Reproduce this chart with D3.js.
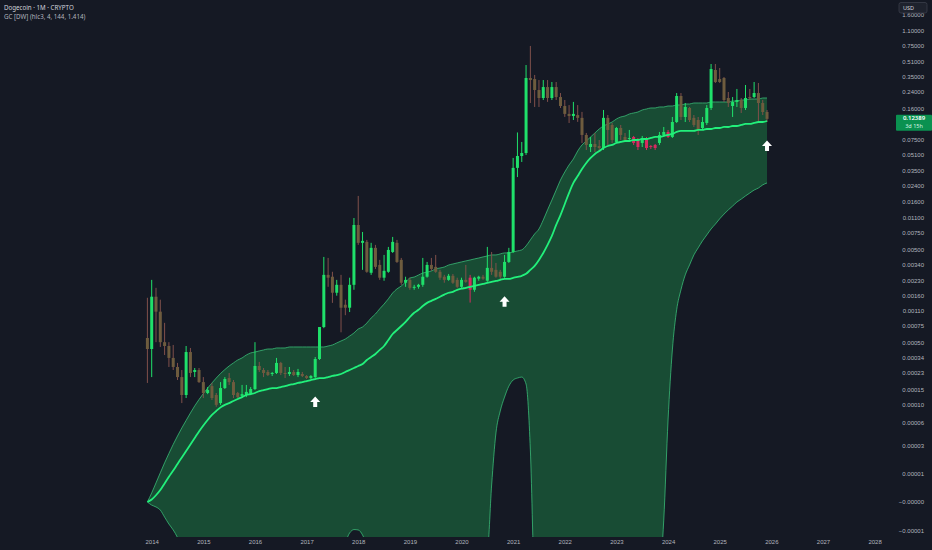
<!DOCTYPE html>
<html>
<head>
<meta charset="utf-8">
<script src="https://cdn.jsdelivr.net/npm/d3@7"></script>
<style>
    html, body { margin: 0; padding: 0; background: #151924; }
    svg { display: block; font-family: "Noto Sans", "Open Sans", sans-serif; }
</style>
</head>
<body>
<div id="chart"></div>
<script>
// Dogecoin monthly candles, Dec 2013 .. Dec 2025 (one entry per month)
const firstMonth = new Date(2013, 11, 1);

const opens = [
    0.000555,
    0.000421, 0.00155, 0.00107, 0.0005, 0.000454, 0.000336, 0.000267, 0.000206, 0.000129, 0.00039, 0.000235, 0.000247,
    0.000181, 0.000136, 0.000163, 0.000129, 0.000104, 0.000155, 0.000201, 0.000181, 0.000136, 0.000126, 0.000129, 0.000132,
    0.000151, 0.000274, 0.000247, 0.000235, 0.000223, 0.000229, 0.000296, 0.000229, 0.000223, 0.000235, 0.000217, 0.000223,
    0.000212, 0.000201, 0.000206, 0.000327, 0.00073, 0.00266, 0.00254, 0.00171, 0.00208, 0.00127, 0.00118, 0.00208,
    0.0091, 0.00586, 0.006, 0.0028, 0.00518, 0.0034, 0.00248, 0.00287, 0.00468, 0.00586, 0.00385, 0.00219,
    0.00235, 0.00193, 0.00198, 0.00208, 0.00254, 0.0034, 0.00324, 0.00287, 0.00254, 0.00235, 0.0026, 0.00235,
    0.00198, 0.00235, 0.00248, 0.00184, 0.00242, 0.00254, 0.0023, 0.00316, 0.00301, 0.00287, 0.00254, 0.00366,
    0.00468, 0.0371, 0.0497, 0.0535, 0.3386, 0.33, 0.252, 0.207, 0.271, 0.207, 0.271, 0.212,
    0.17, 0.14, 0.133, 0.136, 0.127, 0.0834, 0.062, 0.0668, 0.0636, 0.0605, 0.127, 0.1066,
    0.0702, 0.099, 0.0794, 0.0755, 0.0794, 0.0737, 0.0685, 0.0774, 0.0636, 0.0652, 0.0685, 0.0834,
    0.0898, 0.0794, 0.1147, 0.2175, 0.1298, 0.162, 0.127, 0.1205, 0.099, 0.112, 0.162, 0.4124,
    0.33, 0.3386, 0.207, 0.17, 0.1877, 0.1971, 0.162, 0.212, 0.212, 0.234, 0.183, 0.1467
];

const highs = [
    0.00151,
    0.00235, 0.00193, 0.00144, 0.00081, 0.0005, 0.000466, 0.000296, 0.000247, 0.000454, 0.000432, 0.00026, 0.00026,
    0.000206, 0.000159, 0.000177, 0.000136, 0.000181, 0.000206, 0.000229, 0.000191, 0.00014, 0.000168, 0.000168, 0.000159,
    0.0005, 0.000304, 0.00026, 0.000247, 0.000235, 0.000336, 0.000304, 0.000267, 0.000267, 0.000247, 0.000254, 0.000235,
    0.000217, 0.000217, 0.000344, 0.00073, 0.00414, 0.00404, 0.00287, 0.00235, 0.00266, 0.00144, 0.00248, 0.0108,
    0.0186, 0.00766, 0.0063, 0.00586, 0.00557, 0.00385, 0.00435, 0.0053, 0.00678, 0.0063, 0.00404, 0.00254,
    0.00248, 0.00208, 0.00213, 0.00404, 0.00366, 0.00404, 0.00435, 0.00301, 0.00266, 0.00272, 0.00272, 0.00248,
    0.00248, 0.0034, 0.00266, 0.00254, 0.0026, 0.00266, 0.0053, 0.00468, 0.00357, 0.00301, 0.00435, 0.00518,
    0.0474, 0.0887, 0.0702, 0.466, 0.745, 0.365, 0.322, 0.322, 0.322, 0.307, 0.307, 0.234,
    0.197, 0.174, 0.188, 0.174, 0.147, 0.0876, 0.0794, 0.0876, 0.0737, 0.1542, 0.1363, 0.112,
    0.1015, 0.1066, 0.0876, 0.0943, 0.0814, 0.0774, 0.0814, 0.0794, 0.0652, 0.0668, 0.0898, 0.1015,
    0.0943, 0.1298, 0.234, 0.234, 0.183, 0.166, 0.1363, 0.1298, 0.1298, 0.1743, 0.478, 0.478,
    0.433, 0.347, 0.24, 0.212, 0.2586, 0.207, 0.2851, 0.2586, 0.307, 0.2995, 0.1971, 0.1542
];

const lows = [
    0.000177,
    0.000206, 0.0005, 0.000443, 0.000362, 0.000267, 0.000247, 0.000191, 0.000104, 0.000119, 0.000206, 0.000206, 0.000177,
    0.000119, 0.000132, 0.000113, 0.000094, 0.000099, 0.000151, 0.000168, 0.000119, 0.000119, 0.000119, 0.000122, 0.000129,
    0.000147, 0.000235, 0.000206, 0.000212, 0.000212, 0.000223, 0.000217, 0.000201, 0.000212, 0.000212, 0.000206, 0.000206,
    0.000196, 0.000196, 0.000201, 0.000319, 0.00071, 0.00198, 0.00133, 0.00159, 0.00064, 0.00098, 0.00106, 0.00184,
    0.00557, 0.00301, 0.0028, 0.00266, 0.00308, 0.00235, 0.0023, 0.0028, 0.00457, 0.00357, 0.00208, 0.00198,
    0.00184, 0.00184, 0.00189, 0.00198, 0.00248, 0.00294, 0.0028, 0.00235, 0.00219, 0.0023, 0.00213, 0.00193,
    0.00193, 0.00219, 0.00134, 0.00175, 0.0023, 0.00235, 0.00224, 0.00266, 0.00248, 0.00235, 0.00248, 0.00357,
    0.00457, 0.0296, 0.0429, 0.051, 0.183, 0.166, 0.166, 0.197, 0.188, 0.197, 0.197, 0.162,
    0.13, 0.112, 0.1205, 0.115, 0.0685, 0.0576, 0.0548, 0.0548, 0.0548, 0.0576, 0.0652, 0.0685,
    0.0685, 0.0737, 0.0702, 0.0702, 0.0652, 0.0576, 0.062, 0.0576, 0.059, 0.0576, 0.0652, 0.0794,
    0.0774, 0.0774, 0.112, 0.1205, 0.1147, 0.1147, 0.1015, 0.0834, 0.0943, 0.1066, 0.1542, 0.2995,
    0.30, 0.1877, 0.166, 0.1298, 0.166, 0.1432, 0.1542, 0.1971, 0.207, 0.1147, 0.1363, 0.1147
];

const closes = [
    0.000421,
    0.00155, 0.00107, 0.0005, 0.000454, 0.000336, 0.000267, 0.000206, 0.000129, 0.00039, 0.000229, 0.000247, 0.000181,
    0.000136, 0.000147, 0.000119, 0.000099, 0.000155, 0.000196, 0.000181, 0.000129, 0.000122, 0.000132, 0.00014, 0.000151,
    0.000274, 0.000247, 0.000229, 0.000217, 0.000229, 0.000296, 0.000229, 0.000223, 0.000235, 0.000217, 0.000235, 0.000212,
    0.000201, 0.000212, 0.000327, 0.00073, 0.00266, 0.00248, 0.00171, 0.00208, 0.00118, 0.00118, 0.00208, 0.0091,
    0.00586, 0.00615, 0.00287, 0.00518, 0.00324, 0.00248, 0.00294, 0.00492, 0.006, 0.00366, 0.00219, 0.00235,
    0.00193, 0.00198, 0.00208, 0.00254, 0.0034, 0.00308, 0.00287, 0.00248, 0.00235, 0.0026, 0.00219, 0.00198,
    0.00235, 0.00224, 0.00184, 0.00248, 0.00254, 0.00242, 0.00316, 0.00287, 0.00254, 0.00254, 0.00366, 0.00468,
    0.0371, 0.0497, 0.0535, 0.3386, 0.322, 0.252, 0.207, 0.271, 0.207, 0.271, 0.212, 0.17,
    0.14, 0.133, 0.14, 0.127, 0.0834, 0.0652, 0.0668, 0.062, 0.0605, 0.127, 0.0943, 0.0737,
    0.099, 0.0834, 0.0737, 0.0774, 0.0685, 0.062, 0.0774, 0.0605, 0.062, 0.0605, 0.0834, 0.0898,
    0.0794, 0.1147, 0.2175, 0.1298, 0.166, 0.1205, 0.1066, 0.0943, 0.1147, 0.162, 0.4222, 0.3066,
    0.307, 0.1971, 0.183, 0.1877, 0.1971, 0.162, 0.207, 0.207, 0.234, 0.183, 0.1467, 0.12389
];

// GC [DW] channel: upper band, filter line, lower band
const upperBand = [
    0,
    0.0000025, 0.000006, 0.0000105, 0.0000162, 0.000023, 0.0000312, 0.0000407, 0.0000518, 0.0000643, 0.0000793, 0.0000963, 0.0001145,
    0.000134, 0.000155, 0.000177, 0.000201, 0.000226, 0.00025, 0.000274, 0.000296, 0.000319, 0.000336, 0.000362, 0.000381,
    0.00039, 0.000401, 0.000411, 0.000421, 0.000421, 0.000432, 0.000432, 0.000432, 0.000443, 0.000443, 0.000443, 0.000443,
    0.000443, 0.000443, 0.000443, 0.000443, 0.000443, 0.000454, 0.000466, 0.00049, 0.000515, 0.000541, 0.000583, 0.000629,
    0.000695, 0.000731, 0.000807, 0.000914, 0.00101, 0.00115, 0.00129, 0.00147, 0.0017, 0.00188, 0.00202, 0.00223,
    0.00246, 0.00252, 0.00265, 0.00278, 0.00285, 0.00293, 0.00308, 0.00315, 0.00323, 0.00339, 0.00348, 0.00357,
    0.00366, 0.00375, 0.00384, 0.00394, 0.00403, 0.00414, 0.00424, 0.00435, 0.00435, 0.00446, 0.00457, 0.00457,
    0.00468, 0.0048, 0.00492, 0.00543, 0.0063, 0.0073, 0.00825, 0.0103, 0.0132, 0.0168, 0.0215, 0.0275,
    0.0335, 0.0399, 0.0462, 0.0562, 0.0652, 0.0719, 0.0794, 0.0876, 0.0966, 0.104, 0.1093, 0.1147,
    0.1235, 0.1298, 0.133, 0.1397, 0.1432, 0.1467, 0.1542, 0.158, 0.162, 0.162, 0.166, 0.166,
    0.17, 0.17, 0.1743, 0.1743, 0.1786, 0.1786, 0.1831, 0.1831, 0.1831, 0.1831, 0.1877, 0.1877,
    0.1877, 0.1877, 0.1877, 0.1923, 0.1923, 0.1971, 0.1971, 0.202, 0.202, 0.202, 0.2071, 0.2071
];

const midBand = [
    0,
    0.00000063, 0.0000018, 0.0000034, 0.0000058, 0.0000086, 0.0000117, 0.0000155, 0.0000199, 0.0000251, 0.0000312, 0.0000383, 0.0000467,
    0.0000557, 0.0000652, 0.000075, 0.0000838, 0.0000925, 0.000099, 0.000104, 0.00011, 0.000116, 0.000122, 0.000129, 0.000132,
    0.000136, 0.000143, 0.000147, 0.000151, 0.000155, 0.000155, 0.000159, 0.000163, 0.000168, 0.000172, 0.000177, 0.000181,
    0.000186, 0.000191, 0.000196, 0.000201, 0.000201, 0.000206, 0.000212, 0.000217, 0.000223, 0.000235, 0.000247, 0.00026,
    0.000274, 0.000288, 0.000319, 0.000344, 0.000371, 0.000411, 0.000454, 0.000528, 0.000613, 0.000678, 0.000749, 0.000828,
    0.000937, 0.00104, 0.00112, 0.00123, 0.00133, 0.0014, 0.00147, 0.00155, 0.00163, 0.00171, 0.00175, 0.00184,
    0.00189, 0.00193, 0.00198, 0.00203, 0.00208, 0.00213, 0.00218, 0.00224, 0.00229, 0.00235, 0.00241, 0.00241,
    0.00247, 0.00253, 0.0026, 0.00273, 0.00301, 0.00332, 0.00385, 0.00457, 0.00557, 0.00695, 0.00911, 0.0116,
    0.01527, 0.02006, 0.02563, 0.03034, 0.0361, 0.0419, 0.0474, 0.0523, 0.0562, 0.0605, 0.0636, 0.0652,
    0.0685, 0.0702, 0.0719, 0.0719, 0.0737, 0.0737, 0.0755, 0.0755, 0.0774, 0.0794, 0.0794, 0.0814,
    0.0834, 0.0855, 0.0898, 0.092, 0.092, 0.092, 0.092, 0.0943, 0.0943, 0.0966, 0.0966, 0.099,
    0.099, 0.1015, 0.1015, 0.104, 0.104, 0.1066, 0.1093, 0.1093, 0.112, 0.1147, 0.1147, 0.1176
];

const lowerBand = [
    0,
    -0.0000008, -0.0000013, -0.0000022, -0.0000045, -0.0000072, -0.0000099, -0.000014, -0.000021, -0.00003, -0.000045, -0.00006, -0.00008,
    -0.0001, -0.00012, -0.00014, -0.00016, -0.00018, -0.0002, -0.00021, -0.00022, -0.00023, -0.00024, -0.00025, -0.00025,
    -0.00025, -0.00024, -0.00023, -0.00022, -0.0002, -0.00018, -0.00016, -0.00014, -0.00012, -0.0001, -0.00009, -0.00008,
    -0.00007, -0.00006, -0.00005, -0.00004, -0.000032, -0.000025, -0.00002, -0.000018, -0.000017, -0.000016, -0.0000114, -0.0000097,
    -0.0000099, -0.0000125, -0.000019, -0.00003, -0.00005, -0.00008, -0.00012, -0.00018, -0.00025, -0.00035, -0.0005, -0.0006,
    -0.0007, -0.0008, -0.0008, -0.0008, -0.0007, -0.0006, -0.0005, -0.0004, -0.0003, -0.00022, -0.00016, -0.00012,
    -0.00009, -0.00007, -0.00005, -0.00004, -0.00003, -0.000025, -0.000023, 0.0000052, 0.0000446, 0.0000838, 0.000122, 0.000163,
    0.000191, 0.000201, 0.000206, 0.000172, 0.000026, -0.00008, -0.0002, -0.0006, -0.0015, -0.003, -0.005, -0.008,
    -0.011, -0.014, -0.016, -0.017, -0.017, -0.016, -0.015, -0.013, -0.011, -0.009, -0.007, -0.0055,
    -0.004, -0.003, -0.0022, -0.0015, -0.001, -0.0007, -0.00045, -0.0003, -0.0002, -0.00012, -0.00006, -0.0000056,
    0.0000652, 0.000411, 0.00112, 0.00184, 0.00266, 0.0034, 0.00435, 0.00518, 0.00615, 0.00712, 0.00825, 0.0093,
    0.0106, 0.0119, 0.0132, 0.0145, 0.016, 0.0172, 0.0186, 0.02, 0.0215, 0.0226, 0.0244, 0.0256
];

// buy signals (arrows below the bar)
const signalMonths = ['2017-03', '2020-11', '2025-12'];

const yearTicks = [2014, 2015, 2016, 2017, 2018, 2019, 2020, 2021, 2022, 2023, 2024, 2025, 2026, 2027, 2028];
const priceTicks = [1.6, 1.1, 0.75, 0.51, 0.35, 0.24, 0.16, 0.075, 0.051, 0.035, 0.024, 0.016, 0.011, 0.0075,
    0.005, 0.0034, 0.0023, 0.0016, 0.0011, 0.00075, 0.0005, 0.00034, 0.00023, 0.00015, 0.0001,
    0.00006, 0.00003, 0.00001, 0, -0.00001];
const priceTickLabels = ['1.60000', '1.10000', '0.75000', '0.51000', '0.35000', '0.24000', '0.16000', '0.07500',
    '0.05100', '0.03500', '0.02400', '0.01600', '0.01100', '0.00750', '0.00500', '0.00340', '0.00230', '0.00160',
    '0.00110', '0.00075', '0.00050', '0.00034', '0.00023', '0.00015', '0.00010', '0.00006', '0.00003', '0.00001',
    '\u22120.00000', '\u22120.00001'];

const titleLines = ['Dogecoin \u00b7 1M \u00b7 CRYPTO', 'GC [DW] (hlc3, 4, 144, 1.414)'];
const lastPriceLabel = '0.12389';
const countdownLabel = '3d 15h';
const currency = 'USD';

const COLORS = {
    bg: '#151924',
    text: '#b2b5be',
    title: '#d1d4dc',
    fill: '#184c34',
    bandEdge: '#3cc47c',
    mid: '#22f07b',
    up: '#1fe06a',
    down: '#6e5c3e',
    downWick: '#80504b',
    bear: '#d92a60',
    badge: '#0a9150'
};

const W = 932, H = 550;
const plotRight = 895, plotBottom = 537;

const axisStart = new Date(2014, 0, 1);
const firstIndex = d3.timeMonth.count(axisStart, firstMonth);
const fmtMonth = d3.timeFormat('%Y-%m');

const bars = opens.map((o, i) => ({
    date: d3.timeMonth.offset(firstMonth, i),
    idx: firstIndex + i,
    open: o, high: highs[i], low: lows[i], close: closes[i],
    upper: upperBand[i], mid: midBand[i], lower: lowerBand[i]
}));

// bar-index x scale (one slot per month), TradingView style log scale on y
const x = d3.scaleLinear().domain([0, 168]).range([151.7, 874.6]);
const y = d3.scaleSymlog().constant(1e-5).domain([-0.00001366, 2.307]).range([plotBottom, 0]);

const svg = d3.select('#chart').append('svg').attr('width', W).attr('height', H);
svg.append('rect').attr('width', W).attr('height', H).attr('fill', COLORS.bg);

svg.append('clipPath').attr('id', 'plot-clip')
    .append('rect').attr('width', plotRight).attr('height', plotBottom);

const g = svg.append('g').attr('clip-path', 'url(#plot-clip)');

// Channel fill
const area = d3.area()
    .x(d => x(d.idx))
    .y0(d => y(d.lower))
    .y1(d => y(d.upper))
    .curve(d3.curveMonotoneX);

g.append('path').datum(bars).attr('d', area).attr('fill', COLORS.fill);

const lineOf = key => d3.line().x(d => x(d.idx)).y(d => y(d[key])).curve(d3.curveMonotoneX);

g.append('path').datum(bars).attr('d', lineOf('upper'))
    .attr('fill', 'none').attr('stroke', COLORS.bandEdge).attr('stroke-width', 1).attr('opacity', 0.75);
g.append('path').datum(bars).attr('d', lineOf('lower'))
    .attr('fill', 'none').attr('stroke', COLORS.bandEdge).attr('stroke-width', 1).attr('opacity', 0.75);

// Candles
const candleColor = d => {
    if (d.close >= d.open) return COLORS.up;
    return d.close < d.mid ? COLORS.bear : COLORS.down;
};
const wickColor = d => {
    const c = candleColor(d);
    return c === COLORS.down ? COLORS.downWick : c;
};

const candles = g.append('g').selectAll('g').data(bars).enter().append('g');

candles.append('line')
    .attr('x1', d => x(d.idx)).attr('x2', d => x(d.idx))
    .attr('y1', d => y(d.high)).attr('y2', d => y(d.low))
    .attr('stroke', wickColor).attr('stroke-width', 1);

candles.append('rect')
    .attr('x', d => x(d.idx) - 1.5)
    .attr('width', 3)
    .attr('y', d => y(Math.max(d.open, d.close)))
    .attr('height', d => Math.max(1, y(Math.min(d.open, d.close)) - y(Math.max(d.open, d.close))))
    .attr('fill', candleColor);

// Filter line on top of candles
g.append('path').datum(bars).attr('d', lineOf('mid'))
    .attr('fill', 'none').attr('stroke', COLORS.mid).attr('stroke-width', 1.8);

// Signal arrows
const signals = bars.filter(d => signalMonths.includes(fmtMonth(d.date)));
g.selectAll('.signal').data(signals).enter().append('path')
    .attr('class', 'signal')
    .attr('d', 'M0,-5.5L5,0L2,0L2,5L-2,5L-2,0L-5,0Z')
    .attr('fill', '#ffffff')
    .attr('transform', d => `translate(${x(d.idx)},${y(d.low) + 24})`);

// Time axis
svg.append('g')
    .attr('transform', `translate(0,${plotBottom + 3})`)
    .call(d3.axisBottom(x)
        .tickValues(yearTicks.map(yr => (yr - 2014) * 12))
        .tickFormat((d, i) => yearTicks[i])
        .tickSize(0)
        .tickPadding(0));

// Price axis
svg.append('g')
    .attr('transform', 'translate(926,0)')
    .call(d3.axisLeft(y)
        .tickValues(priceTicks)
        .tickFormat((d, i) => priceTickLabels[i])
        .tickSize(0)
        .tickPadding(2));

svg.selectAll('.domain').remove();
svg.selectAll('.tick text')
    .attr('fill', COLORS.text)
    .style('font-size', '6px');

// Last price badge
const badgeY = y(closes[closes.length - 1]);
svg.append('rect')
    .attr('x', 896).attr('y', badgeY - 4).attr('width', 36).attr('height', 16)
    .attr('fill', COLORS.badge).attr('rx', 1);
svg.append('text')
    .attr('x', 914).attr('y', badgeY + 1.5)
    .attr('text-anchor', 'middle').attr('fill', '#ffffff')
    .style('font-size', '6px').style('font-weight', 600)
    .text(lastPriceLabel);
svg.append('text')
    .attr('x', 914).attr('y', badgeY + 9)
    .attr('text-anchor', 'middle').attr('fill', '#d8f5e3')
    .style('font-size', '5.5px')
    .text(countdownLabel);

// Currency box
svg.append('rect')
    .attr('x', 899).attr('y', 2.5).attr('width', 28).attr('height', 10.5)
    .attr('fill', '#1e222d').attr('stroke', '#3a3e4a').attr('stroke-width', 0.8).attr('rx', 2);
svg.append('text')
    .attr('x', 903).attr('y', 9.8)
    .attr('fill', COLORS.title).style('font-size', '5.5px')
    .text(currency);

// Legend / title
svg.selectAll('.title').data(titleLines).enter().append('text')
    .attr('class', 'title')
    .attr('x', 4).attr('y', (d, i) => 10 + i * 8.5)
    .attr('fill', (d, i) => i === 0 ? COLORS.title : COLORS.text)
    .style('font-size', '6.2px')
    .text(d => d);
</script>
</body>
</html>
